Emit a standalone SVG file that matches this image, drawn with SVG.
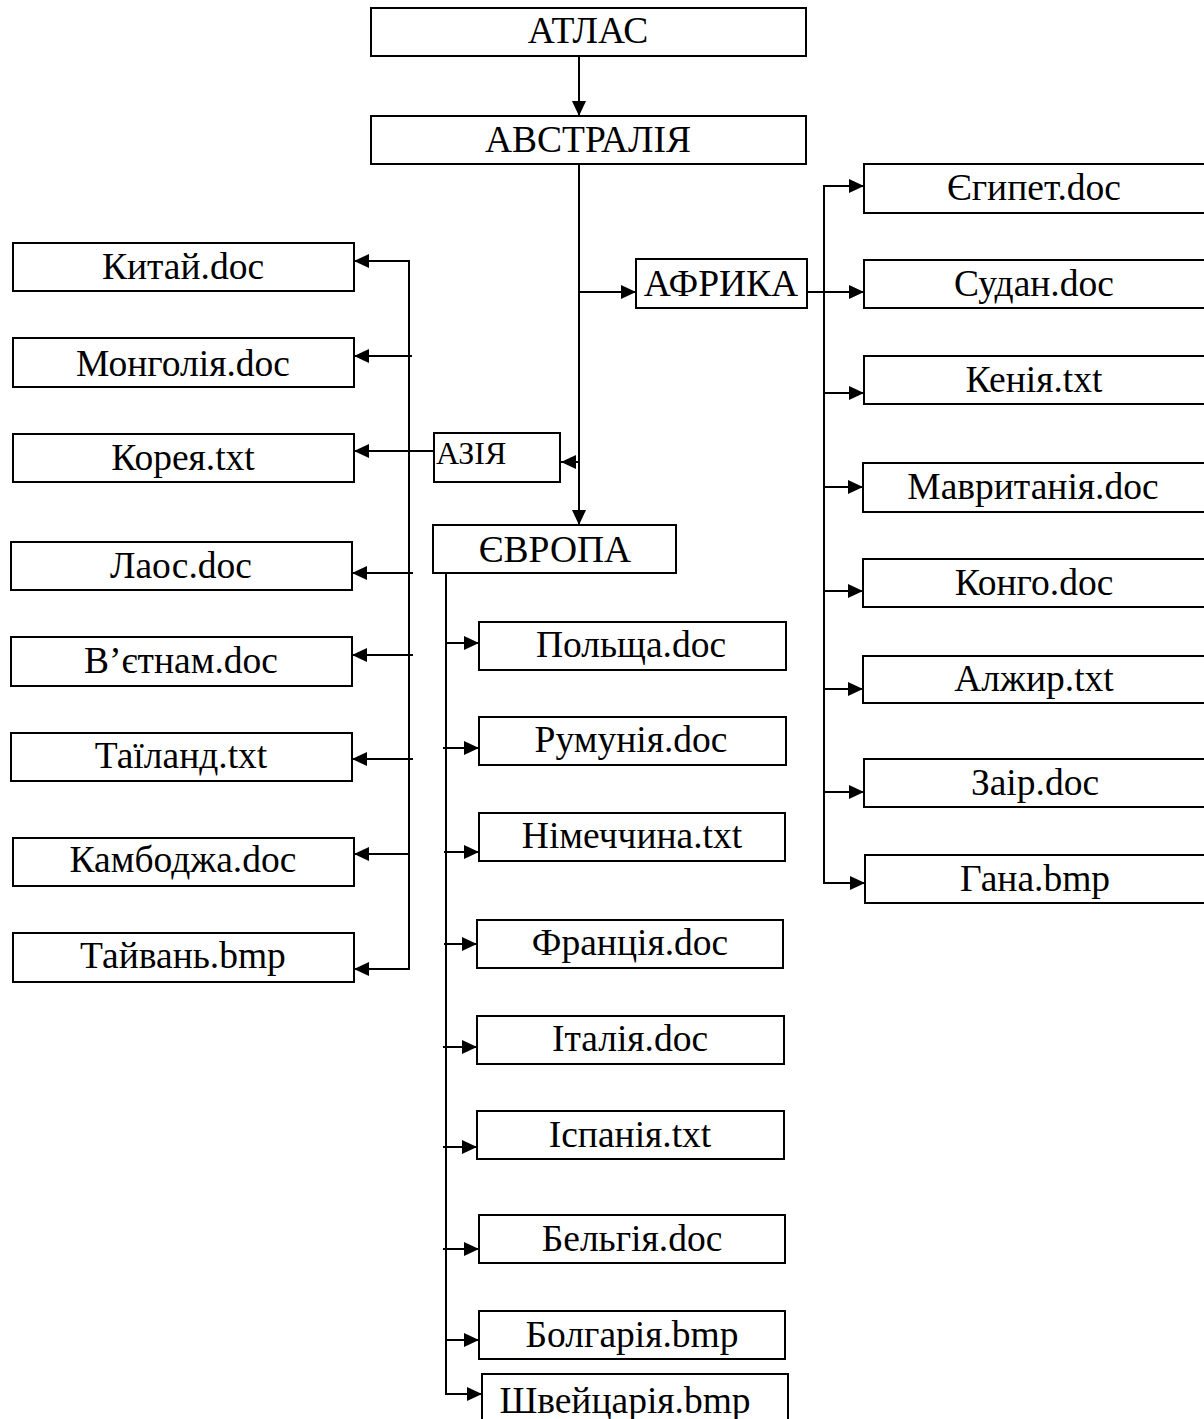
<svg xmlns="http://www.w3.org/2000/svg" width="1204" height="1419" viewBox="0 0 1204 1419">
  <style>
    .box { fill: #fff; stroke: #000; stroke-width: 2; }
    .lbl { font-family: "Liberation Serif", "Times New Roman", serif; font-size: 37.5px; fill: #000; text-anchor: middle; }
    .small { font-size: 32px; text-anchor: start; }
    .ln { fill: none; stroke: #000; stroke-width: 2; }
    .arr { marker-end: url(#head); }
  </style>
  <defs>
    <marker id="head" markerUnits="userSpaceOnUse" markerWidth="16" markerHeight="14" refX="15" refY="7" orient="auto">
      <path d="M0,0 L15,7 L0,14 Z" fill="#000"/>
    </marker>
  </defs>

  <rect width="1204" height="1419" fill="#fff"/>

  <!-- connectors -->
  <g id="connectors">
    <!-- atlas to australia -->
    <path class="ln arr" d="M579,56 V116"/>
    <!-- main trunk down to Europe -->
    <path class="ln arr" d="M579,164 V525"/>
    <path class="ln arr" d="M579,292 H636"/>
    <path class="ln arr" d="M579,462 H561"/>

    <!-- Africa -->
    <path class="ln arr" d="M807,292 H864"/>
    <path class="ln arr" d="M824,292 V186 H864"/>
    <path class="ln arr" d="M824,292 V883 H865"/>
    <path class="ln arr" d="M825,393 H864"/>
    <path class="ln arr" d="M825,487 H863"/>
    <path class="ln arr" d="M825,591 H863"/>
    <path class="ln arr" d="M825,689 H863"/>
    <path class="ln arr" d="M825,792 H864"/>

    <!-- Asia -->
    <path class="ln arr" d="M440,451 H354"/>
    <path class="ln arr" d="M409,600 V261 H354"/>
    <path class="ln arr" d="M409,600 V969 H354"/>
    <path class="ln arr" d="M412,356 H354"/>
    <path class="ln arr" d="M413,573 H352"/>
    <path class="ln arr" d="M413,655 H352"/>
    <path class="ln arr" d="M413,759 H352"/>
    <path class="ln arr" d="M410,854 H354"/>

    <!-- Europe -->
    <path class="ln arr" d="M446,573 V1394 H482"/>
    <path class="ln arr" d="M446,643 H479"/>
    <path class="ln arr" d="M443,748 H479"/>
    <path class="ln arr" d="M444,852 H479"/>
    <path class="ln arr" d="M444,944 H477"/>
    <path class="ln arr" d="M443,1047 H477"/>
    <path class="ln arr" d="M443,1147 H477"/>
    <path class="ln arr" d="M443,1249 H479"/>
    <path class="ln arr" d="M446,1340 H479"/>
  </g>

  <!-- top levels -->
  <g id="atlas"><rect class="box" x="371" y="8" width="435" height="48"/><text class="lbl" x="588" y="43">АТЛАС</text></g>
  <g id="australia"><rect class="box" x="371" y="116" width="435" height="48"/><text class="lbl" x="588" y="152">АВСТРАЛІЯ</text></g>
  <g id="africa"><rect class="box" x="636" y="259" width="171" height="49"/><text class="lbl" x="721" y="296">АФРИКА</text></g>
  <g id="asia"><rect class="box" x="434" y="433" width="126" height="49"/><text class="lbl small" x="436" y="464">АЗІЯ</text></g>
  <g id="europe"><rect class="box" x="433" y="525" width="243" height="48"/><text class="lbl" x="555" y="562">ЄВРОПА</text></g>

  <!-- Africa files -->
  <g id="egypt"><rect class="box" x="864" y="164" width="346" height="49"/><text class="lbl" x="1034" y="200">Єгипет.doc</text></g>
  <g id="sudan"><rect class="box" x="864" y="260" width="346" height="48"/><text class="lbl" x="1034" y="296">Судан.doc</text></g>
  <g id="kenya"><rect class="box" x="864" y="356" width="346" height="48"/><text class="lbl" x="1034" y="392">Кенія.txt</text></g>
  <g id="mauritania"><rect class="box" x="863" y="463" width="347" height="49"/><text class="lbl" x="1033" y="499">Мавританія.doc</text></g>
  <g id="congo"><rect class="box" x="863" y="559" width="347" height="48"/><text class="lbl" x="1034" y="595">Конго.doc</text></g>
  <g id="algeria"><rect class="box" x="863" y="656" width="347" height="47"/><text class="lbl" x="1034" y="691">Алжир.txt</text></g>
  <g id="zaire"><rect class="box" x="864" y="759" width="346" height="48"/><text class="lbl" x="1035" y="795">Заір.doc</text></g>
  <g id="ghana"><rect class="box" x="865" y="855" width="345" height="48"/><text class="lbl" x="1035" y="891">Гана.bmp</text></g>

  <!-- Asia files -->
  <g id="china"><rect class="box" x="13" y="243" width="341" height="48"/><text class="lbl" x="183" y="279">Китай.doc</text></g>
  <g id="mongolia"><rect class="box" x="13" y="338" width="341" height="49"/><text class="lbl" x="183" y="376">Монголія.doc</text></g>
  <g id="korea"><rect class="box" x="13" y="434" width="341" height="48"/><text class="lbl" x="183" y="470">Корея.txt</text></g>
  <g id="laos"><rect class="box" x="11" y="542" width="341" height="48"/><text class="lbl" x="181" y="578">Лаос.doc</text></g>
  <g id="vietnam"><rect class="box" x="11" y="637" width="341" height="49"/><text class="lbl" x="181" y="673">В’єтнам.doc</text></g>
  <g id="thailand"><rect class="box" x="11" y="733" width="341" height="48"/><text class="lbl" x="181" y="768">Таїланд.txt</text></g>
  <g id="cambodia"><rect class="box" x="13" y="838" width="341" height="48"/><text class="lbl" x="183" y="872">Камбоджа.doc</text></g>
  <g id="taiwan"><rect class="box" x="13" y="933" width="341" height="49"/><text class="lbl" x="183" y="968">Тайвань.bmp</text></g>

  <!-- Europe files -->
  <g id="poland"><rect class="box" x="479" y="622" width="307" height="48"/><text class="lbl" x="631" y="657">Польща.doc</text></g>
  <g id="romania"><rect class="box" x="479" y="717" width="307" height="48"/><text class="lbl" x="631" y="752">Румунія.doc</text></g>
  <g id="germany"><rect class="box" x="479" y="813" width="306" height="48"/><text class="lbl" x="632" y="848">Німеччина.txt</text></g>
  <g id="france"><rect class="box" x="477" y="920" width="306" height="48"/><text class="lbl" x="630" y="955">Франція.doc</text></g>
  <g id="italy"><rect class="box" x="477" y="1016" width="307" height="48"/><text class="lbl" x="630" y="1051">Італія.doc</text></g>
  <g id="spain"><rect class="box" x="477" y="1111" width="307" height="48"/><text class="lbl" x="630" y="1147">Іспанія.txt</text></g>
  <g id="belgium"><rect class="box" x="479" y="1215" width="306" height="48"/><text class="lbl" x="632" y="1251">Бельгія.doc</text></g>
  <g id="bulgaria"><rect class="box" x="479" y="1311" width="306" height="48"/><text class="lbl" x="632" y="1347">Болгарія.bmp</text></g>
  <g id="switzerland"><rect class="box" x="482" y="1374" width="306" height="50"/><text class="lbl" x="625" y="1413">Швейцарія.bmp</text></g>
</svg>
